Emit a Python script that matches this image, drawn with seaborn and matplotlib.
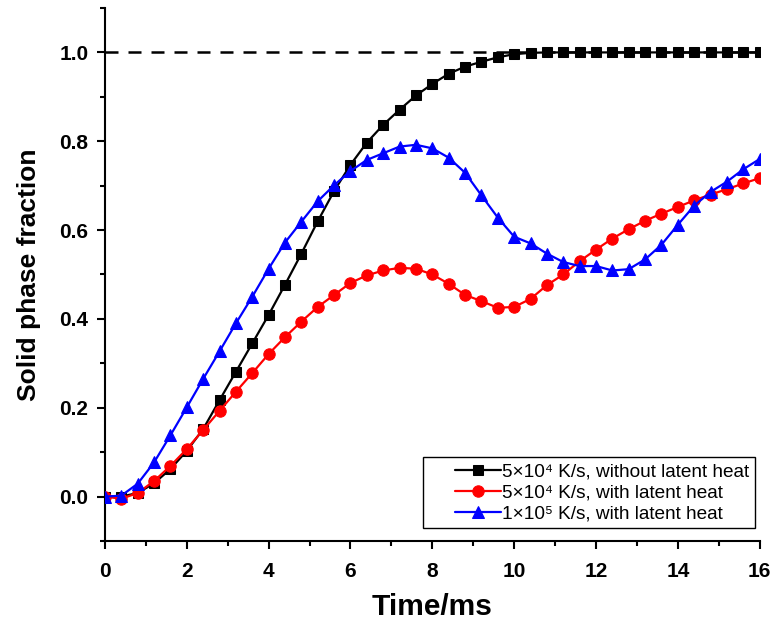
import matplotlib
matplotlib.use("Agg")
import matplotlib.pyplot as plt
from matplotlib.ticker import MultipleLocator, FormatStrFormatter
from matplotlib.lines import Line2D
from matplotlib.legend_handler import HandlerLine2D
import pandas as pd
import seaborn as sns

# Sampling times (ms)
time_ms = [0.0, 0.4, 0.8, 1.2, 1.6, 2.0, 2.4, 2.8, 3.2, 3.6,
           4.0, 4.4, 4.8, 5.2, 5.6, 6.0, 6.4, 6.8, 7.2, 7.6,
           8.0, 8.4, 8.8, 9.2, 9.6, 10.0, 10.4, 10.8, 11.2, 11.6,
           12.0, 12.4, 12.8, 13.2, 13.6, 14.0, 14.4, 14.8, 15.2, 15.6,
           16.0]

# Solid phase fraction, 5e4 K/s without latent heat
frac_5e4_no_latent = [0.0, 0.0, 0.008, 0.030, 0.062, 0.103, 0.152, 0.217, 0.281, 0.345,
                      0.409, 0.477, 0.547, 0.620, 0.688, 0.747, 0.797, 0.837, 0.871, 0.903,
                      0.929, 0.952, 0.968, 0.979, 0.989, 0.996, 0.999, 1.0, 1.0, 1.0,
                      1.0, 1.0, 1.0, 1.0, 1.0, 1.0, 1.0, 1.0, 1.0, 1.0,
                      1.0]

# Solid phase fraction, 5e4 K/s with latent heat
frac_5e4_latent = [0.0, -0.005, 0.008, 0.035, 0.069, 0.107, 0.150, 0.193, 0.236, 0.278,
                   0.321, 0.359, 0.394, 0.427, 0.454, 0.481, 0.498, 0.509, 0.515, 0.513,
                   0.500, 0.479, 0.454, 0.440, 0.425, 0.427, 0.445, 0.476, 0.500, 0.530,
                   0.556, 0.581, 0.602, 0.621, 0.637, 0.652, 0.667, 0.680, 0.692, 0.705,
                   0.717]

# Solid phase fraction, 1e5 K/s with latent heat
frac_1e5_latent = [0.0, 0.002, 0.029, 0.077, 0.138, 0.201, 0.265, 0.327, 0.390, 0.450,
                   0.513, 0.572, 0.619, 0.665, 0.701, 0.733, 0.758, 0.773, 0.788, 0.792,
                   0.784, 0.763, 0.729, 0.678, 0.628, 0.585, 0.570, 0.547, 0.528, 0.519,
                   0.519, 0.509, 0.512, 0.534, 0.567, 0.612, 0.655, 0.686, 0.709, 0.737,
                   0.760]

series_labels = ["5×10⁴ K/s, without latent heat",
                 "5×10⁴ K/s, with latent heat",
                 "1×10⁵ K/s, with latent heat"]

sns.set_style("ticks")
plt.rcParams["font.family"] = ["Liberation Sans", "DejaVu Sans"]
plt.rcParams["text.color"] = "black"
plt.rcParams["axes.labelcolor"] = "black"
plt.rcParams["xtick.color"] = "black"
plt.rcParams["ytick.color"] = "black"

fig = plt.figure(figsize=(7.73, 6.30), dpi=100)
ax = fig.add_axes([0.1358, 0.1413, 0.847, 0.846])

# reference level: fully solid
ax.axhline(1.0, color="black", lw=1.8, ls=(0, (5.2, 4.0)), zorder=1)

styles = [
    dict(color="black", marker="s", markersize=7.2),
    dict(color="#ff0000", marker="o", markersize=8.2),
    dict(color="#0000ff", marker="^", markersize=9.0),
]
for vals, lab, st in zip([frac_5e4_no_latent, frac_5e4_latent, frac_1e5_latent],
                         series_labels, styles):
    df = pd.DataFrame({"Time/ms": time_ms, "fraction": vals})
    sns.lineplot(data=df, x="Time/ms", y="fraction", ax=ax, label=lab,
                 color=st["color"], marker=st["marker"], markersize=st["markersize"],
                 markeredgecolor=st["color"], markerfacecolor=st["color"],
                 linewidth=1.6, zorder=3)

ax.set_xlim(0, 16)
ax.set_ylim(-0.1, 1.1)
ax.xaxis.set_major_locator(MultipleLocator(2))
ax.xaxis.set_minor_locator(MultipleLocator(1))
ax.yaxis.set_major_locator(MultipleLocator(0.2))
ax.yaxis.set_minor_locator(MultipleLocator(0.1))
ax.yaxis.set_major_formatter(FormatStrFormatter("%.1f"))

for side in ("top", "right"):
    ax.spines[side].set_visible(False)
for side in ("left", "bottom"):
    ax.spines[side].set_linewidth(1.5)
    ax.spines[side].set_color("black")

ax.tick_params(which="major", direction="out", length=6, width=1.5, labelsize=15)
ax.tick_params(axis="x", which="major", pad=9)
ax.tick_params(axis="y", which="major", pad=6)
ax.tick_params(which="minor", direction="out", length=3.5, width=1.5)
for lbl in ax.get_xticklabels() + ax.get_yticklabels():
    lbl.set_fontweight("bold")

ax.set_xlabel("Time/ms", fontsize=21.5, fontweight="bold", labelpad=9)
ax.set_ylabel("Solid phase fraction", fontsize=19, fontweight="bold", labelpad=13)

leg = ax.legend(loc="lower right", bbox_to_anchor=(0.993, 0.024), borderaxespad=0,
                fontsize=13.7, frameon=True, fancybox=False, edgecolor="black",
                framealpha=1, handlelength=3.8, handletextpad=0.08,
                labelspacing=0.2, borderpad=0.3,
                handler_map={Line2D: HandlerLine2D(xpad=1.4)})
leg.get_frame().set_linewidth(1.0)

fig.savefig("out.png", dpi=100)
